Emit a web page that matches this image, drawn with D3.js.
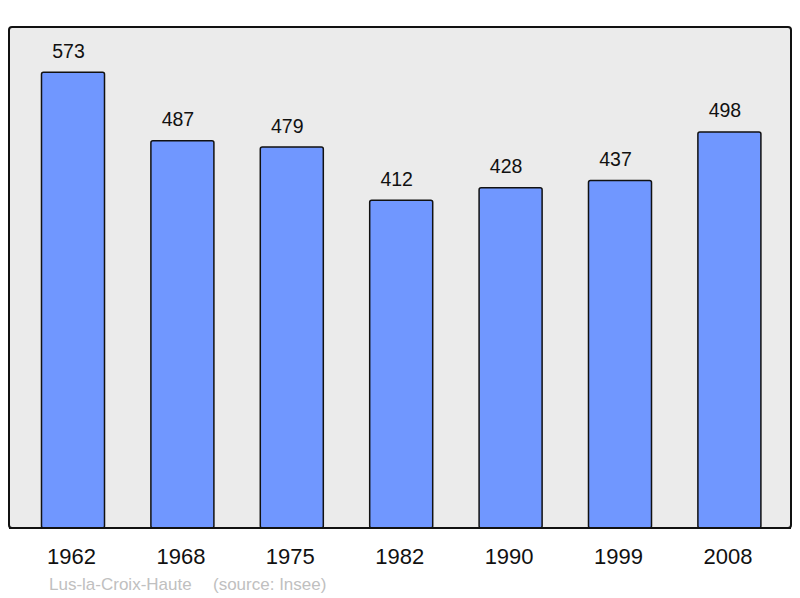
<!DOCTYPE html>
<html><head><meta charset="utf-8">
<script src="https://cdn.jsdelivr.net/npm/d3@7"></script>
<style>body{margin:0;background:#fff}svg{display:block}</style>
</head><body>
<svg id="c" width="800" height="598"></svg>
<script>
const years = ["1962","1968","1975","1982","1990","1999","2008"];
const population = [573,487,479,412,428,437,498];
const title = "Lus-la-Croix-Haute";
const source = "(source: Insee)";

const svg = d3.select("#c");
const panel = {x0: 9, x1: 791, y0: 27, y1: 528};
const font = "'Liberation Sans', Arial, sans-serif";

svg.append("rect").attr("x", panel.x0).attr("y", panel.y0)
  .attr("width", panel.x1 - panel.x0).attr("height", panel.y1 - panel.y0)
  .attr("rx", 3).attr("fill", "#ebebeb").attr("stroke", "#111").attr("stroke-width", 2);

const x = d3.scaleBand().domain(years).range([18.3, 784.1]).paddingInner(0.424).paddingOuter(0.212);
const y = d3.scaleLinear().domain([0, 630]).range([panel.y1, panel.y0]);

const g = svg.append("g");
g.selectAll("rect.bar").data(population).join("rect").attr("class","bar")
  .attr("x", (d,i) => x(years[i])).attr("y", d => y(d))
  .attr("width", x.bandwidth()).attr("height", d => panel.y1 - y(d))
  .attr("rx", 2).attr("fill", "#7097ff").attr("stroke", "#111").attr("stroke-width", 1.5);

g.selectAll("text.val").data(population).join("text").attr("class","val")
  .attr("x", (d,i) => x(years[i]) + x.bandwidth()/2 - 4.5).attr("y", d => y(d) - 14.5)
  .attr("text-anchor","middle").attr("font-family", font).attr("font-size", 19.5).attr("fill","#111")
  .text(d => d);

svg.append("line").attr("x1", panel.x0).attr("x2", panel.x1).attr("y1", panel.y1).attr("y2", panel.y1)
  .attr("stroke","#111").attr("stroke-width",2);

const axis = d3.axisBottom(x).tickSize(0).tickPadding(0);
const ax = svg.append("g").attr("transform", `translate(0,${panel.y1})`).call(axis);
ax.select(".domain").remove();
ax.selectAll("text").attr("font-family", font).attr("font-size", 22).attr("fill","#111")
  .attr("dy", 0).attr("y", 36).attr("x", -1.5);

svg.append("text").attr("x", 49).attr("y", 590).attr("font-family", font).attr("font-size", 17)
  .attr("fill", "#c0c0c0").text(title);
svg.append("text").attr("x", 213).attr("y", 590).attr("font-family", font).attr("font-size", 17)
  .attr("fill", "#c0c0c0").text(source);
</script>
</body></html>
